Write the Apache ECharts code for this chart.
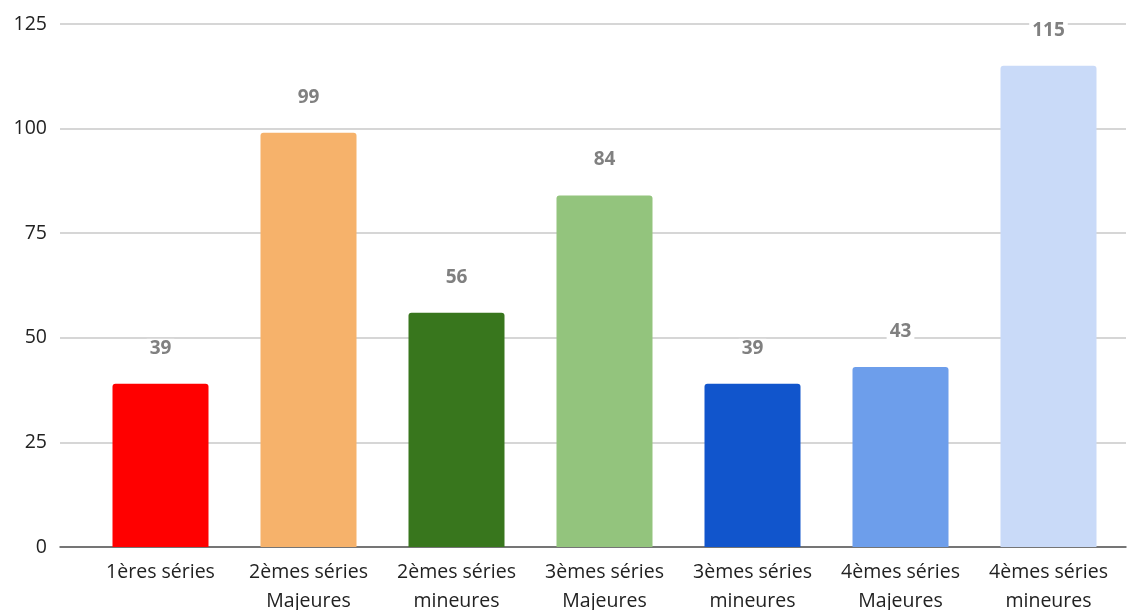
<!DOCTYPE html>
<html><head><meta charset="utf-8">
<script src="https://cdn.jsdelivr.net/npm/echarts@6/dist/echarts.min.js"></script>
<style>html,body{margin:0;padding:0;background:#fff}#c{width:1136px;height:610px}</style>
</head><body><div id="c"></div>
<script>
const categories = ['1ères séries\n ', '2èmes séries\nMajeures', '2èmes séries\nmineures', '3èmes séries\nMajeures', '3èmes séries\nmineures', '4èmes séries\nMajeures', '4èmes séries\nmineures'];
const values = [39, 99, 56, 84, 39, 43, 115];
const colors = ['#ff0000', '#f6b26b', '#38761d', '#93c47d', '#1155cc', '#6d9eeb', '#c9daf8'];
const yTicks = [0, 25, 50, 75, 100, 125];

const chart = echarts.init(document.getElementById('c'), null, {renderer: 'canvas'});
const font = '"Open Sans", sans-serif';
chart.setOption({
  animation: false,
  grid: [
    {left: 60, right: 10, top: 24, bottom: 63, outerBoundsMode: 'none', containLabel: false},
    {left: 86.5, right: 13.5, top: 24, bottom: 63, outerBoundsMode: 'none', containLabel: false}
  ],
  xAxis: [
    {gridIndex: 0, type: 'category', data: categories, axisLine: {lineStyle: {color: '#555', width: 1.5}}, axisTick: {show: false}, axisLabel: {show: false}},
    {gridIndex: 1, type: 'category', data: categories, axisLine: {show: false}, axisTick: {show: false},
     axisLabel: {interval: 0, color: '#222', fontSize: 19.5, fontFamily: font, lineHeight: 29, margin: 11}}
  ],
  yAxis: [
    {gridIndex: 0, type: 'value', min: yTicks[0], max: yTicks[yTicks.length - 1], interval: 25,
     axisLine: {show: false}, axisTick: {show: false},
     splitLine: {lineStyle: {color: '#c8c8c8', width: 1.5}},
     axisLabel: {color: '#222', fontSize: 19.5, fontFamily: font, margin: 13}},
    {gridIndex: 1, type: 'value', min: yTicks[0], max: yTicks[yTicks.length - 1], interval: 25, show: false, splitLine: {show: false}}
  ],
  series: [{
    type: 'bar', xAxisIndex: 1, yAxisIndex: 1,
    barWidth: 96,
    data: values.map((v, i) => ({value: v, itemStyle: {color: colors[i], borderRadius: [3, 3, 0, 0]}})),
    label: {show: true, position: 'top', distance: 26, color: '#808080', fontWeight: 'bold', fontSize: 19, fontFamily: font, backgroundColor: '#fff', padding: [0, 3]}
  }]
});
</script></body></html>
